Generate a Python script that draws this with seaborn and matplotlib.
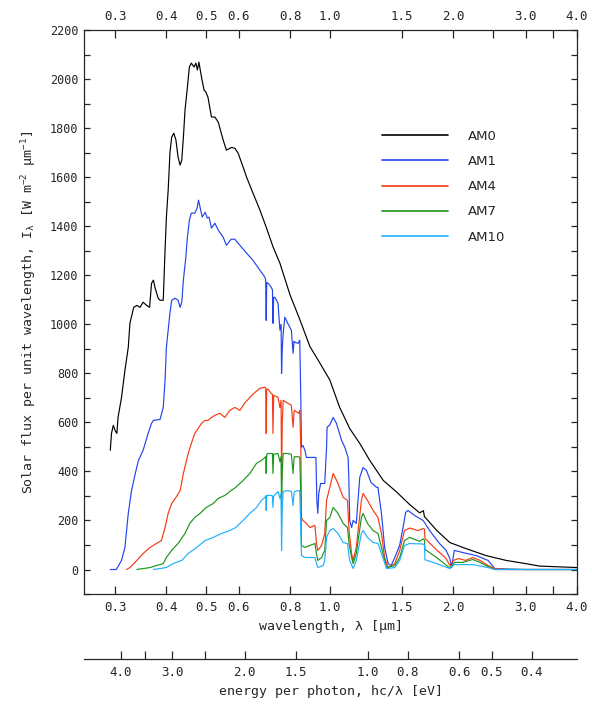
import numpy as np
import pandas as pd
import matplotlib
matplotlib.use("Agg")
import matplotlib.pyplot as plt
import seaborn as sns

# spectra (wavelength in um, flux in W m-2 um-1)
am0_lam = [0.292, 0.294, 0.297, 0.300, 0.303, 0.305, 0.311, 0.317, 0.323, 0.326, 0.333, 0.339, 0.345,
           0.351, 0.358, 0.364, 0.368, 0.372, 0.375, 0.382, 0.386, 0.393, 0.397, 0.400, 0.404, 0.408,
           0.412, 0.417, 0.422, 0.427, 0.432, 0.436, 0.440, 0.444, 0.450, 0.455, 0.460, 0.467, 0.472,
           0.476, 0.480, 0.487, 0.494, 0.499, 0.505, 0.515, 0.525, 0.535, 0.550, 0.560, 0.576, 0.587,
           0.598, 0.615, 0.627, 0.650, 0.676, 0.700, 0.728, 0.756, 0.800, 0.845, 0.894, 0.945, 1.000,
           1.057, 1.118, 1.183, 1.251, 1.350, 1.450, 1.565, 1.655, 1.690, 1.700, 1.820, 1.960, 2.140,
           2.400, 2.690, 3.000, 3.240, 4.000]
am0_flux = [486, 555, 588, 567, 555, 620, 702, 812, 906, 1004, 1069, 1077, 1069,
            1090, 1077, 1069, 1167, 1180, 1151, 1106, 1098, 1098, 1302, 1437, 1547, 1698,
            1763, 1779, 1751, 1682, 1649, 1669, 1763, 1873, 1967, 2049, 2065, 2049, 2065,
            2037, 2069, 2008, 1955, 1947, 1926, 1845, 1845, 1824, 1751, 1710, 1721, 1718,
            1698, 1641, 1600, 1535, 1465, 1396, 1314, 1249, 1120, 1020, 910, 843, 773,
            661, 575, 514, 445, 363, 318, 265, 231, 240, 216, 160, 110, 86,
            57, 37, 24, 14, 8]

am1_lam = [0.292, 0.302, 0.311, 0.317, 0.323, 0.329, 0.336, 0.342, 0.351, 0.361, 0.368, 0.372, 0.386,
           0.393, 0.397, 0.400, 0.408, 0.412, 0.420, 0.427, 0.432, 0.436, 0.440, 0.446, 0.450, 0.455,
           0.460, 0.469, 0.475, 0.479, 0.483, 0.489, 0.497, 0.503, 0.508, 0.515, 0.525, 0.535, 0.550,
           0.560, 0.575, 0.587, 0.604, 0.627, 0.650, 0.676, 0.695, 0.698, 0.700, 0.702, 0.708, 0.720,
           0.725, 0.727, 0.730, 0.735, 0.748, 0.756, 0.761, 0.763, 0.766, 0.770, 0.777, 0.790, 0.806,
           0.814, 0.818, 0.820, 0.837, 0.845, 0.850, 0.853, 0.860, 0.870, 0.877, 0.894, 0.925, 0.930,
           0.935, 0.940, 0.950, 0.972, 0.982, 0.985, 1.000, 1.019, 1.038, 1.068, 1.088, 1.108, 1.113,
           1.118, 1.130, 1.140, 1.160, 1.183, 1.205, 1.228, 1.260, 1.300, 1.310, 1.336, 1.360, 1.387,
           1.410, 1.440, 1.480, 1.508, 1.530, 1.550, 1.610, 1.686, 1.700, 1.750, 1.850, 1.920, 1.960,
           1.980, 2.010, 2.110, 2.270, 2.430, 2.520, 2.700, 3.000, 4.000]
am1_flux = [0, 0, 37, 90, 229, 322, 392, 445, 486, 555, 596, 608, 612,
            661, 771, 906, 1045, 1098, 1106, 1098, 1069, 1090, 1180, 1273, 1355, 1424,
            1453, 1453, 1473, 1506, 1478, 1437, 1457, 1433, 1437, 1392, 1412, 1384, 1355,
            1322, 1347, 1347, 1322, 1290, 1261, 1220, 1192, 1180, 1016, 1170, 1167, 1151,
            1140, 1004, 1110, 1110, 1086, 976, 1000, 800, 900, 963, 1029, 1004, 976,
            882, 930, 927, 922, 935, 690, 498, 506, 486, 457, 457, 457, 282,
            229, 310, 351, 351, 498, 580, 590, 620, 596, 527, 498, 457, 363,
            200, 171, 200, 188, 376, 416, 404, 355, 335, 335, 229, 90, 24,
            16, 49, 100, 171, 233, 241, 220, 200, 192, 159, 106, 78, 45,
            8, 78, 69, 57, 37, 4, 2, 0, 0]

am4_lam = [0.320, 0.326, 0.339, 0.351, 0.365, 0.378, 0.389, 0.397, 0.404, 0.412, 0.422, 0.432, 0.440,
           0.446, 0.452, 0.460, 0.469, 0.478, 0.487, 0.497, 0.505, 0.515, 0.525, 0.540, 0.555, 0.571,
           0.587, 0.604, 0.620, 0.639, 0.657, 0.676, 0.695, 0.698, 0.700, 0.702, 0.708, 0.720, 0.725,
           0.727, 0.730, 0.748, 0.756, 0.761, 0.763, 0.766, 0.770, 0.790, 0.806, 0.814, 0.818, 0.820,
           0.840, 0.845, 0.850, 0.853, 0.860, 0.877, 0.894, 0.920, 0.928, 0.935, 0.955, 0.972, 0.982,
           1.000, 1.019, 1.047, 1.078, 1.104, 1.114, 1.130, 1.140, 1.160, 1.194, 1.205, 1.235, 1.275,
           1.310, 1.336, 1.360, 1.387, 1.440, 1.480, 1.520, 1.565, 1.640, 1.686, 1.700, 1.705, 1.820,
           1.920, 1.960, 2.000, 2.060, 2.140, 2.230, 2.320, 2.430, 2.520, 2.700, 4.000]
am4_flux = [0, 8, 37, 65, 90, 106, 118, 171, 229, 269, 294, 322, 392,
            433, 473, 514, 555, 575, 596, 608, 608, 620, 629, 637, 620, 649,
            661, 649, 678, 702, 722, 739, 743, 740, 555, 735, 735, 718, 715,
            555, 710, 702, 660, 690, 363, 600, 690, 678, 670, 580, 640, 649,
            637, 649, 498, 212, 200, 188, 171, 180, 106, 78, 98, 147, 282,
            335, 392, 351, 294, 282, 159, 65, 37, 90, 282, 310, 282, 241,
            212, 147, 49, 8, 24, 78, 159, 169, 159, 167, 165, 127, 80,
            45, 16, 37, 45, 37, 49, 37, 16, 4, 0, 0]

am7_lam = [0.339, 0.365, 0.378, 0.393, 0.400, 0.412, 0.427, 0.444, 0.456, 0.469, 0.483, 0.500, 0.520,
           0.535, 0.555, 0.575, 0.590, 0.615, 0.639, 0.663, 0.682, 0.695, 0.698, 0.700, 0.702, 0.708,
           0.720, 0.725, 0.727, 0.730, 0.748, 0.756, 0.761, 0.763, 0.766, 0.770, 0.790, 0.806, 0.814,
           0.818, 0.820, 0.840, 0.845, 0.850, 0.853, 0.870, 0.894, 0.920, 0.928, 0.935, 0.955, 0.972,
           0.982, 1.000, 1.019, 1.047, 1.078, 1.104, 1.114, 1.130, 1.140, 1.160, 1.194, 1.205, 1.235,
           1.275, 1.310, 1.336, 1.375, 1.440, 1.480, 1.520, 1.565, 1.655, 1.686, 1.700, 1.705, 1.820,
           1.960, 2.010, 2.110, 2.230, 2.320, 2.430, 2.520, 4.000]
am7_flux = [0, 8, 16, 24, 49, 78, 106, 147, 188, 212, 229, 253, 269,
            290, 302, 322, 335, 363, 392, 433, 445, 457, 460, 392, 470, 473,
            473, 473, 392, 470, 473, 440, 460, 230, 400, 473, 473, 470, 392,
            450, 460, 460, 457, 300, 98, 90, 98, 106, 65, 37, 49, 78,
            200, 212, 253, 229, 188, 171, 106, 49, 24, 65, 212, 229, 188,
            159, 147, 90, 8, 16, 49, 118, 131, 115, 125, 120, 82, 49,
            6, 29, 29, 41, 29, 12, 0, 0]

am10_lam = [0.372, 0.400, 0.415, 0.436, 0.452, 0.474, 0.497, 0.520, 0.545, 0.571, 0.590, 0.615, 0.639,
            0.663, 0.682, 0.695, 0.698, 0.700, 0.702, 0.708, 0.720, 0.725, 0.727, 0.730, 0.748, 0.756,
            0.761, 0.763, 0.766, 0.770, 0.790, 0.806, 0.814, 0.818, 0.820, 0.840, 0.845, 0.850, 0.853,
            0.870, 0.920, 0.928, 0.935, 0.963, 0.972, 0.982, 1.000, 1.019, 1.047, 1.078, 1.104, 1.118,
            1.140, 1.160, 1.194, 1.205, 1.235, 1.275, 1.310, 1.336, 1.375, 1.440, 1.480, 1.520, 1.565,
            1.686, 1.700, 1.705, 1.820, 1.960, 2.010, 2.230, 2.430, 2.520, 4.000]
am10_flux = [0, 8, 24, 37, 65, 90, 118, 131, 147, 159, 171, 200, 229,
             253, 282, 294, 300, 241, 302, 302, 302, 300, 253, 300, 318, 290,
             310, 78, 250, 318, 322, 318, 261, 310, 318, 322, 322, 150, 57,
             49, 49, 24, 8, 16, 37, 131, 159, 167, 147, 110, 106, 37,
             4, 37, 147, 159, 131, 110, 106, 65, 4, 8, 37, 98, 106,
             104, 100, 40, 24, 4, 20, 20, 8, 0, 0]

series_names = ["AM0", "AM1", "AM4", "AM7", "AM10"]
series_colors = ["#000000", "#2244ee", "#f53a14", "#1a961a", "#1eb0ff"]

wl_ticks = [0.3, 0.4, 0.5, 0.6, 0.8, 1.0, 1.5, 2.0, 2.5, 3.0, 3.5, 4.0]
wl_labels = ["0.3", "0.4", "0.5", "0.6", "0.8", "1.0", "1.5", "2.0", "", "3.0", "", "4.0"]
ev_ticks = [4.0, 3.5, 3.0, 2.5, 2.0, 1.5, 1.0, 0.8, 0.6, 0.5, 0.4]
ev_labels = ["4.0", "", "3.0", "", "2.0", "1.5", "1.0", "0.8", "0.6", "0.5", "0.4"]

frames = []
for name, lam, flux in zip(series_names,
                           [am0_lam, am1_lam, am4_lam, am7_lam, am10_lam],
                           [am0_flux, am1_flux, am4_flux, am7_flux, am10_flux]):
    frames.append(pd.DataFrame({"wavelength": lam, "flux": flux, "airmass": name}))
df = pd.concat(frames, ignore_index=True)

sns.set_style("ticks")
plt.rcParams["font.family"] = ["DejaVu Sans Mono", "DejaVu Sans"]
plt.rcParams["mathtext.default"] = "regular"

fig = plt.figure(figsize=(5.92, 7.04), dpi=100)
ax = fig.add_axes([0.1419, 0.1562, 0.8328, 0.8012])

sns.lineplot(data=df, x="wavelength", y="flux", hue="airmass", hue_order=series_names,
             palette=series_colors, estimator=None, sort=False, linewidth=0.85, ax=ax)

ax.set_xscale("log")
ax.set_xlim(0.252, 4.0)
ax.set_ylim(-100, 2200)
ax.set_xticks(wl_ticks)
ax.set_xticklabels(wl_labels)
ax.xaxis.set_minor_locator(matplotlib.ticker.NullLocator())
ax.set_yticks(np.arange(0, 2201, 200))
ax.yaxis.set_minor_locator(matplotlib.ticker.MultipleLocator(100))
ax.tick_params(axis="x", which="major", direction="in", length=6, width=0.9,
               top=True, labeltop=True, labelsize=9, pad=5)
ax.tick_params(axis="y", which="both", direction="in", length=4, width=0.9,
               right=True, labelsize=8.5, pad=4)
for sp in ax.spines.values():
    sp.set_linewidth(0.9)
    sp.set_visible(True)

ax.set_xlabel("wavelength, λ [µm]", fontsize=9.5, labelpad=4)
ax.set_ylabel("Solar flux per unit wavelength, I$_{λ}$ [W m$^{-2}$ µm$^{-1}$]",
              fontsize=9.5, labelpad=8)

leg = ax.legend(loc="upper left", bbox_to_anchor=(0.592, 0.835), frameon=False,
                handlelength=5.0, handletextpad=1.5, labelspacing=0.93, borderpad=0,
                prop={"family": "DejaVu Sans", "size": 9.5})
for line in leg.get_lines():
    line.set_linewidth(1.2)

# energy axis below
ax_e = fig.add_axes([0.1419, 0.0639, 0.8328, 0.0001])
ax_e.set_xscale("log")
ax_e.set_xlim(0.252, 4.0)
ax_e.set_xticks([1.2398 / e for e in ev_ticks])
ax_e.set_xticklabels(ev_labels)
ax_e.xaxis.set_minor_locator(matplotlib.ticker.NullLocator())
ax_e.set_yticks([])
for side in ["left", "right", "top"]:
    ax_e.spines[side].set_visible(False)
ax_e.spines["bottom"].set_linewidth(0.9)
ax_e.tick_params(axis="x", direction="in", length=6, width=0.9, labelsize=9, pad=5)
ax_e.set_xlabel("energy per photon, hc/λ [eV]", fontsize=9.5, labelpad=4)

fig.savefig("out.png", dpi=100)
